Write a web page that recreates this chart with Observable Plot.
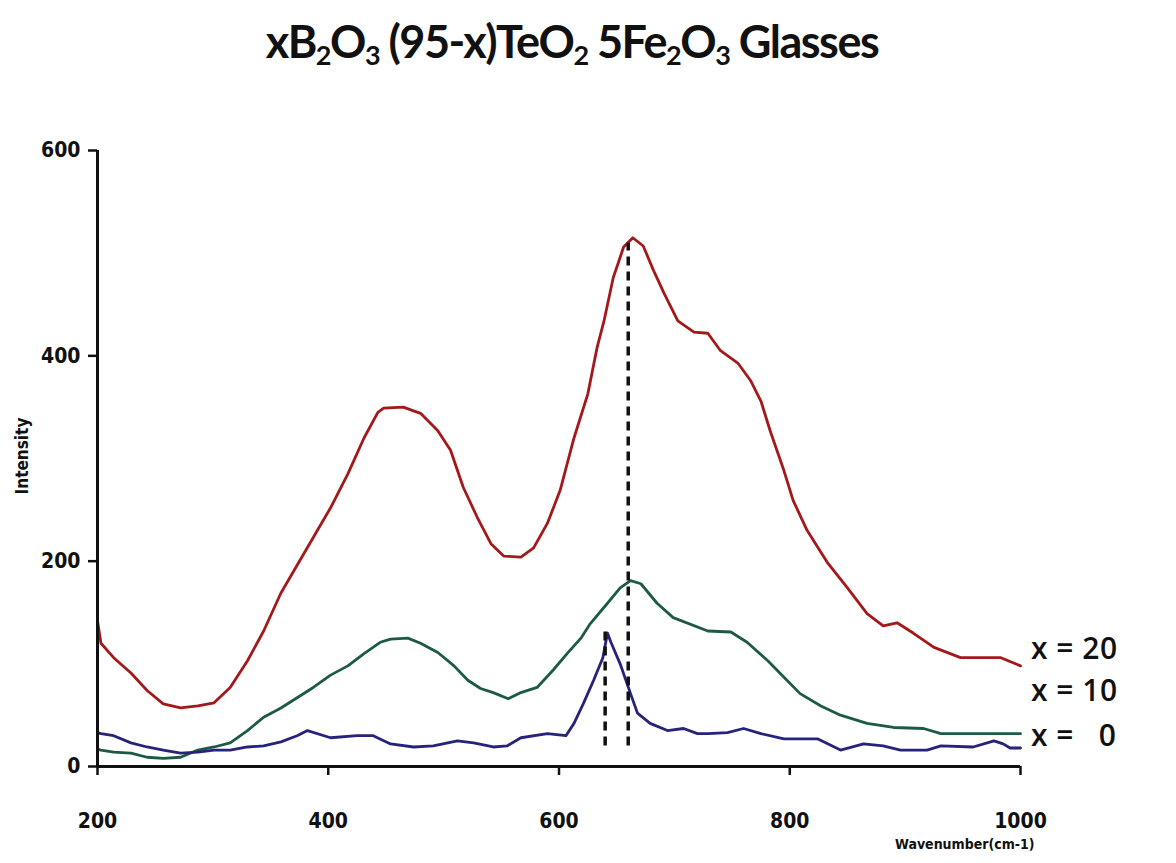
<!DOCTYPE html>
<html>
<head>
<meta charset="utf-8">
<script src="https://cdn.jsdelivr.net/npm/d3@7"></script>
<script src="https://cdn.jsdelivr.net/npm/@observablehq/plot@0.6"></script>
<style>
  html, body { margin: 0; padding: 0; background: #fff; }
  #wrap { position: relative; width: 1176px; height: 863px; overflow: hidden; }
  #title { position: absolute; left: -16px; width: 1176px; top: 14px; text-align: center;
    font-family: Lato, "Open Sans", sans-serif; font-weight: bold; font-size: 45px; letter-spacing: -1.5px; color: #111; }
  #title sub { font-size: 27px; vertical-align: -7px; line-height: 0; }
  .leg { position: absolute; left: 1031px; font-family: "Open Sans", Lato, sans-serif; font-size: 30px;
    font-weight: 600; color: #111; white-space: pre; line-height: 1; letter-spacing: 0.5px; }
  .axlab { position: absolute; font-family: "DejaVu Sans Condensed", "Liberation Sans Narrow", Arial, sans-serif;
    font-weight: bold; color: #111; white-space: nowrap; }
</style>
</head>
<body>
<div id="wrap">
  <div id="chart"></div>
  <div id="title">xB<sub>2</sub>O<sub>3</sub> (95-x)TeO<sub>2</sub> 5Fe<sub>2</sub>O<sub>3</sub> Glasses</div>
  <div class="leg" style="top:633px">x = 20</div>
  <div class="leg" style="top:675px">x = 10</div>
  <div class="leg" style="top:720px">x =   0</div>
  <div class="axlab" style="left:22px; top:456px; font-size:17px; transform: translate(-50%, -50%) rotate(-90deg);">Intensity</div>
  <div class="axlab" style="left:895px; top:836px; font-size:14px;">Wavenumber(cm-1)</div>
</div>
<script>
// x = 20 (red)
const x20Wn = [200,203,214,229,243,257,272,287,301,315,330,344,359,387,402,417,431,443,448,465,480,495,506,517,529,541,552,567,578,590,601,613,625,633,639,647,656,664,673,682,691,703,717,729,740,755,766,775,783,795,803,815,833,850,867,881,893,907,925,948,983,1000];
const x20Int = [142,120,106,91,74,61,57,59,62,77,103,132,169,223,252,285,320,345,349,350,344,327,308,272,243,217,205,204,213,237,269,320,363,408,434,476,506,515,507,483,461,434,423,422,405,393,376,356,327,288,259,230,198,174,149,137,140,130,116,106,106,98];
// x = 10 (green)
const x10Wn = [200,203,214,229,243,257,272,287,301,315,330,344,359,373,387,402,417,431,445,454,469,480,495,509,521,532,543,556,567,581,595,607,619,627,642,653,662,671,685,699,729,749,763,781,795,809,827,844,867,890,916,931,959,1000];
const x10Int = [17,16,14,13,9,8,9,16,19,23,35,48,57,67,77,89,98,110,121,124,125,120,111,98,84,76,72,66,72,77,94,110,125,139,159,174,181,178,159,145,132,131,121,103,87,71,59,50,42,38,37,32,32,32];
// x = 0 (blue)
const x0Wn = [200,203,214,229,243,257,272,287,301,315,330,344,359,373,382,402,425,439,454,474,491,512,526,543,555,567,590,606,613,621,630,638,642,645,653,662,668,679,694,708,720,729,746,760,775,795,824,844,864,881,896,919,931,959,977,985,991,1000];
const x0Int = [33,32,30,23,19,16,13,14,16,16,19,20,24,30,35,28,30,30,22,19,20,25,23,19,20,28,32,30,42,61,84,106,130,121,100,71,52,42,35,37,32,32,33,37,32,27,27,16,22,20,16,16,20,19,25,22,18,18];
// dashed peak markers
const peakWn = [640, 660];
const peakTop = [132, 510];
const peakBase = [20, 20];
const yTicks = [0, 200, 400, 600];
const xTicks = [200, 400, 600, 800, 1000];

const series = [
  {name: "x = 20", wn: x20Wn, val: x20Int, color: "#a3191b"},
  {name: "x = 10", wn: x10Wn, val: x10Int, color: "#1d5a45"},
  {name: "x = 0",  wn: x0Wn,  val: x0Int,  color: "#27237a"}
];
const rows = series.flatMap(s => s.wn.map((w, i) => ({series: s.name, wn: w, v: s.val[i]})));
const peaks = peakWn.map((w, i) => ({wn: w, top: peakTop[i], base: peakBase[i]}));

const font = '"DejaVu Sans Condensed", "Liberation Sans Narrow", Arial, sans-serif';
const chart = Plot.plot({
  width: 1176,
  height: 863,
  marginLeft: 97,
  marginRight: 156,
  marginTop: 150,
  marginBottom: 97,
  style: {fontFamily: font, background: "white"},
  x: {domain: [200, 1000]},
  y: {domain: [0, 600]},
  color: {domain: series.map(s => s.name), range: series.map(s => s.color)},
  marks: [
    Plot.axisY({ticks: yTicks, tickFormat: d => String(d), tickSize: 9, tickPadding: 8, label: null, fontSize: 21, fontWeight: "bold", strokeWidth: 2.5, stroke: "#111", fill: "#111"}),
    Plot.axisX({ticks: xTicks, tickFormat: d => String(d), tickSize: 9, tickPadding: 38, label: null, fontSize: 21, fontWeight: "bold", strokeWidth: 2.5, stroke: "#111", fill: "#111"}),
    Plot.line(rows, {x: "wn", y: "v", z: "series", stroke: "series", strokeWidth: 2.8}),
    Plot.ruleX(peaks, {x: "wn", y1: "base", y2: "top", stroke: "#111", strokeWidth: 3.5, strokeDasharray: "9,6"}),
    Plot.ruleX([200], {stroke: "#111", strokeWidth: 3}),
    Plot.ruleY([0], {stroke: "#111", strokeWidth: 3})
  ]
});
document.getElementById("chart").appendChild(chart);
</script>
</body>
</html>
